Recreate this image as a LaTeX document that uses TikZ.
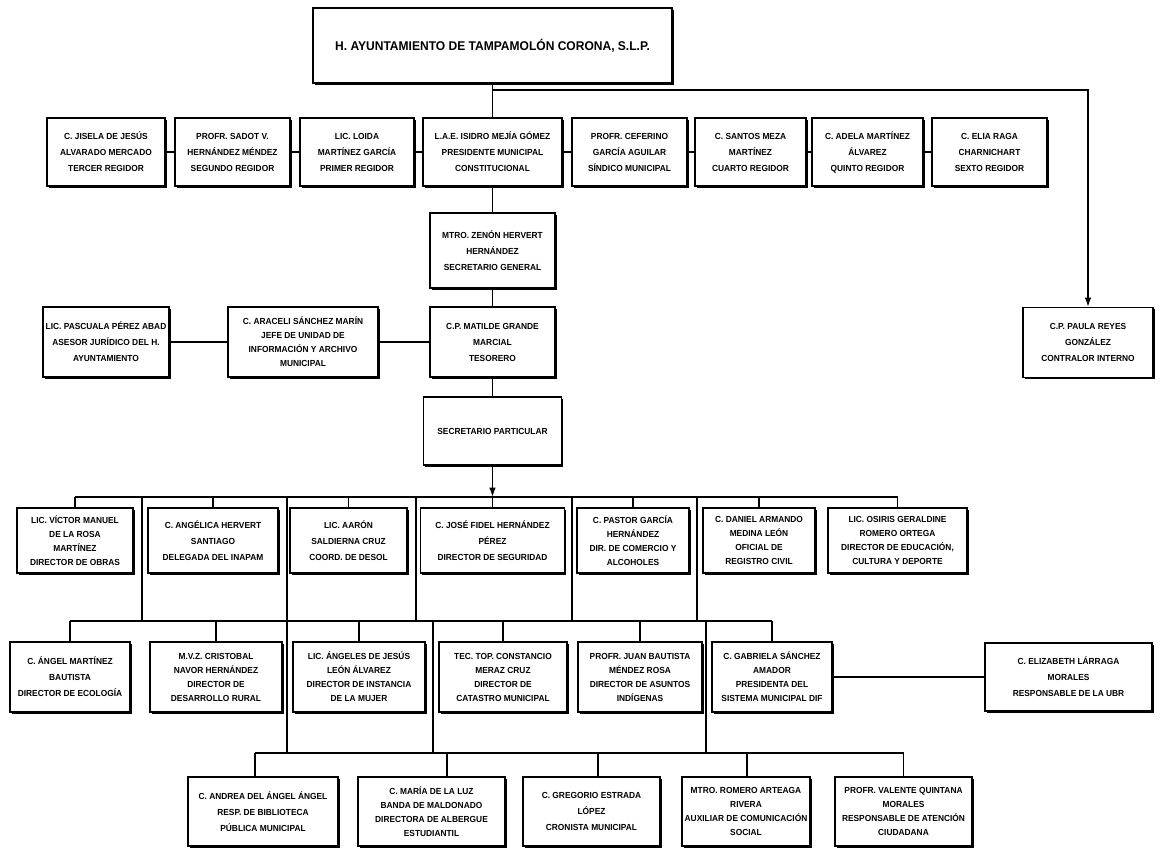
\documentclass[tikz,border=0pt]{standalone}
\usepackage{fontspec}
\setmainfont{Liberation Sans}[FakeStretch=0.95]
\usetikzlibrary{shadows,arrows.meta}
\begin{document}
\begin{tikzpicture}[x=0.75pt,y=-0.75pt,
  box/.style={draw, line width=0.9pt, fill=white, align=center, inner sep=1pt,
    font=\bfseries\fontsize{6.6}{10.5}\selectfont,
    drop shadow={shadow xshift=1.2pt, shadow yshift=-1.2pt, fill=black, opacity=1}},
  three/.style={font=\bfseries\fontsize{6.6}{12}\selectfont},
  bw/.style 2 args={minimum width=#1*0.75pt, minimum height=#2*0.75pt},
  ln/.style={line width=1.1pt},
  arr/.style={line width=1.1pt, -{Latex[length=7pt,width=5pt]}}]
\useasboundingbox (0,0) rectangle (1166,848);
\fill[white] (0,0) rectangle (1166,848);

% title
\node[box, bw={359}{75}, font=\bfseries\fontsize{9.5}{11}\selectfont] (title) at (492.5,45.5) {H. AYUNTAMIENTO DE TAMPAMOLÓN CORONA, S.L.P.};

% row 1
\node[box, three, bw={118}{68}] (r1a) at (106,152) {C. JISELA DE JESÚS\\ALVARADO MERCADO\\TERCER REGIDOR};
\node[box, three, bw={115}{68}] (r1b) at (232.5,152) {PROFR. SADOT V.\\HERNÁNDEZ MÉNDEZ\\SEGUNDO REGIDOR};
\node[box, three, bw={114}{68}] (r1c) at (357,152) {LIC. LOIDA\\MARTÍNEZ GARCÍA\\PRIMER REGIDOR};
\node[box, three, bw={139}{68}] (r1d) at (492.5,152) {L.A.E. ISIDRO MEJÍA GÓMEZ\\PRESIDENTE MUNICIPAL\\CONSTITUCIONAL};
\node[box, three, bw={115}{68}] (r1e) at (629.5,152) {PROFR. CEFERINO\\GARCÍA AGUILAR\\SÍNDICO MUNICIPAL};
\node[box, three, bw={111}{68}] (r1f) at (750.5,152) {C. SANTOS MEZA\\MARTÍNEZ\\CUARTO REGIDOR};
\node[box, three, bw={111}{68}] (r1g) at (867.5,152) {C. ADELA MARTÍNEZ\\ÁLVAREZ\\QUINTO REGIDOR};
\node[box, three, bw={115}{68}] (r1h) at (989.5,152) {C. ELIA RAGA\\CHARNICHART\\SEXTO REGIDOR};

% secretario general and row 2
\node[box, three, bw={125}{75}] (sec) at (492.5,250.5) {MTRO. ZENÓN HERVERT\\HERNÁNDEZ\\SECRETARIO GENERAL};
\node[box, three, bw={126}{70}] (ases) at (106,342) {LIC. PASCUALA PÉREZ ABAD\\ASESOR JURÍDICO DEL H.\\AYUNTAMIENTO};
\node[box, bw={150}{70}] (arac) at (303,342) {C. ARACELI SÁNCHEZ MARÍN\\JEFE DE UNIDAD DE\\INFORMACIÓN Y ARCHIVO\\MUNICIPAL};
\node[box, three, bw={125}{70}] (tes) at (492.5,342) {C.P. MATILDE GRANDE\\MARCIAL\\TESORERO};
\node[box, three, bw={130}{70}] (contr) at (1088,342.5) {C.P. PAULA REYES\\GONZÁLEZ\\CONTRALOR INTERNO};

% secretario particular
\node[box, bw={138}{68}] (sp) at (492.5,431) {SECRETARIO PARTICULAR};

% row 3
\node[box, bw={116}{65}] (r3a) at (75,540.5) {LIC. VÍCTOR MANUEL\\DE LA ROSA\\MARTÍNEZ\\DIRECTOR DE OBRAS};
\node[box, three, bw={130}{65}] (r3b) at (213,540.5) {C. ANGÉLICA HERVERT\\SANTIAGO\\DELEGADA DEL INAPAM};
\node[box, three, bw={117}{65}] (r3c) at (348.5,540.5) {LIC. AARÓN\\SALDIERNA CRUZ\\COORD. DE DESOL};
\node[box, three, bw={144}{65}] (r3d) at (492.5,540.5) {C. JOSÉ FIDEL HERNÁNDEZ\\PÉREZ\\DIRECTOR DE SEGURIDAD};
\node[box, bw={112}{65}] (r3e) at (633,540.5) {C. PASTOR GARCÍA\\HERNÁNDEZ\\DIR. DE COMERCIO Y\\ALCOHOLES};
\node[box, bw={112}{65}] (r3f) at (759,540.5) {C. DANIEL ARMANDO\\MEDINA LEÓN\\OFICIAL DE\\REGISTRO CIVIL};
\node[box, bw={139}{65}] (r3g) at (897.5,540.5) {LIC. OSIRIS GERALDINE\\ROMERO ORTEGA\\DIRECTOR DE EDUCACIÓN,\\CULTURA Y DEPORTE};

% row 4
\node[box, three, bw={120}{70}] (r4a) at (70,677) {C. ÁNGEL MARTÍNEZ\\BAUTISTA\\DIRECTOR DE ECOLOGÍA};
\node[box, bw={132}{70}] (r4b) at (216,677) {M.V.Z. CRISTOBAL\\NAVOR HERNÁNDEZ\\DIRECTOR DE\\DESARROLLO RURAL};
\node[box, bw={132}{70}] (r4c) at (359,677) {LIC. ÁNGELES DE JESÚS\\LEÓN ÁLVAREZ\\DIRECTOR DE INSTANCIA\\DE LA MUJER};
\node[box, bw={128}{70}] (r4d) at (503,677) {TEC. TOP. CONSTANCIO\\MERAZ CRUZ\\DIRECTOR DE\\CATASTRO MUNICIPAL};
\node[box, bw={124}{70}] (r4e) at (640,677) {PROFR. JUAN BAUTISTA\\MÉNDEZ ROSA\\DIRECTOR DE ASUNTOS\\INDÍGENAS};
\node[box, bw={120}{70}] (r4f) at (772,677) {C. GABRIELA SÁNCHEZ\\AMADOR\\PRESIDENTA DEL\\SISTEMA MUNICIPAL DIF};
\node[box, three, bw={167}{68}] (r4g) at (1068.5,677) {C. ELIZABETH LÁRRAGA\\MORALES\\RESPONSABLE DE LA UBR};

% row 5
\node[box, three, bw={150}{69}] (r5a) at (263,811.5) {C. ANDREA DEL ÁNGEL ÁNGEL\\RESP. DE BIBLIOTECA\\PÚBLICA MUNICIPAL};
\node[box, bw={147}{69}] (r5b) at (431.5,811.5) {C. MARÍA DE LA LUZ\\BANDA DE MALDONADO\\DIRECTORA DE ALBERGUE\\ESTUDIANTIL};
\node[box, three, bw={137}{69}] (r5c) at (591.5,811.5) {C. GREGORIO ESTRADA\\LÓPEZ\\CRONISTA MUNICIPAL};
\node[box, bw={128}{69}] (r5d) at (746,811.5) {MTRO. ROMERO ARTEAGA\\RIVERA\\AUXILIAR DE COMUNICACIÓN\\SOCIAL};
\node[box, bw={137}{69}] (r5e) at (903.5,811.5) {PROFR. VALENTE QUINTANA\\MORALES\\RESPONSABLE DE ATENCIÓN\\CIUDADANA};

% coordinates
\coordinate (j1) at (492.5,90);
\coordinate (j2) at (1088,90);
\coordinate (b3m) at (492.5,497);
\coordinate (b3l) at (75,497);
\coordinate (b3r) at (897.5,497);
\coordinate (b4l) at (70,621);
\coordinate (b4r) at (772,621);
\coordinate (b5l) at (255,753);
\coordinate (b5r) at (903.5,753);
\coordinate (d5a) at (255,753);
\coordinate (d5b) at (447,753);
\coordinate (d5c) at (598,753);
\coordinate (d5d) at (747,753);
\coordinate (d5e) at (903.5,753);

% connectors
\draw[ln] (title.south) -- (r1d.north);
\draw[arr] (j1) -- (j2) -- (contr.north);
\foreach \a/\b in {r1a/r1b,r1b/r1c,r1c/r1d,r1d/r1e,r1e/r1f,r1f/r1g,r1g/r1h}
  \draw[ln] (\a.east) -- (\b.west);
\draw[ln] (r1d.south) -- (sec.north);
\draw[ln] (sec.south) -- (tes.north);
\draw[ln] (tes.south) -- (sp.north);
\draw[ln] (ases.east) -- (arac.west);
\draw[ln] (arac.east) -- (tes.west);
\draw[arr] (sp.south) -- (b3m);
\draw[ln] (b3l) -- (b3r);
\foreach \n in {r3a,r3b,r3c,r3d,r3e,r3f,r3g}
  \draw[ln] (\n.north) -- (\n.north |- b3l);
\foreach \x in {142,416,572,697}
  \draw[ln] (\x,497) -- (\x,621);
\draw[ln] (287,497) -- (287,753);
\draw[ln] (b4l) -- (b4r);
\foreach \n in {r4a,r4b,r4c,r4d,r4e,r4f}
  \draw[ln] (\n.north) -- (\n.north |- b4l);
\foreach \x in {433,706}
  \draw[ln] (\x,621) -- (\x,753);
\draw[ln] (b5l) -- (b5r);
\foreach \d/\n in {d5a/r5a,d5b/r5b,d5c/r5c,d5d/r5d,d5e/r5e}
  \draw[ln] (\d) -- (\d |- \n.north);
\draw[ln] (r4f.east) -- (r4g.west);
\end{tikzpicture}
\end{document}
